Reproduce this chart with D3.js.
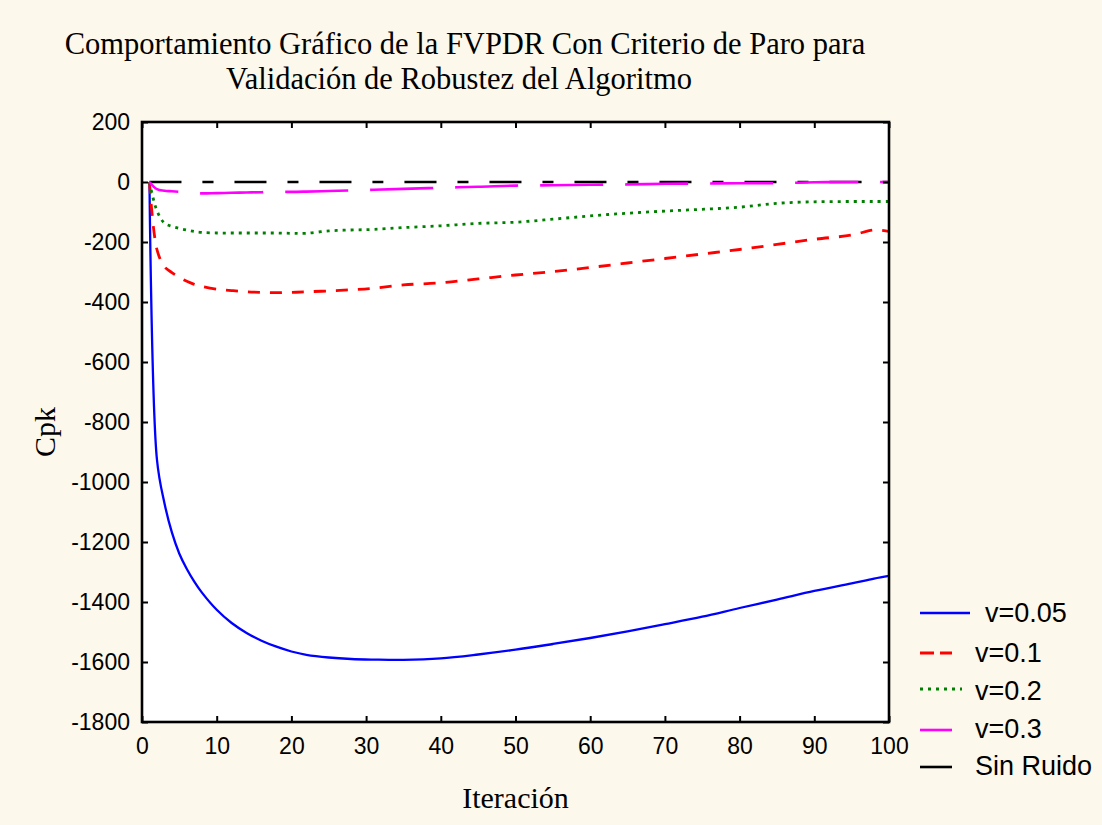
<!DOCTYPE html>
<html>
<head>
<meta charset="utf-8">
<script src="https://cdn.jsdelivr.net/npm/d3@7"></script>
<style>
  html, body { margin: 0; padding: 0; background: #fdf8ec; }
  #chart svg { display: block; }
  .tick line { stroke: #000; stroke-width: 2px; }
</style>
</head>
<body>
<div id="chart"></div>
<script>
/* ================= Data ================= */

const iterations = [1, 2, 3, 4, 5, 6, 7, 8, 10, 12, 14, 16, 18, 20, 22, 25, 28, 31, 35, 40, 45, 50, 55, 60, 65, 70, 75, 80, 85, 90, 95, 98, 100];

const v005 = [0, -925, -1070, -1168, -1239, -1290, -1332, -1368, -1426, -1470, -1503, -1529, -1549, -1565, -1576, -1585, -1590, -1592, -1593, -1588, -1575, -1559, -1540, -1520, -1498, -1474, -1449, -1420, -1392, -1363, -1338, -1322, -1313];
const v01 = [0, -225, -282, -302, -318, -331, -341, -348, -357, -362, -366, -368, -369, -368, -366, -363, -359, -354, -343, -336, -323, -310, -299, -285, -270, -255, -240, -225, -208, -191, -177, -160, -165];
const v02 = [0, -96, -137, -148, -155, -160, -165, -168, -170, -170, -170, -170, -170, -171, -171, -163, -160, -158, -152, -146, -138, -134, -124, -113, -104, -97, -91, -84, -71, -66, -65, -65, -65];
const v03 = [0, -24, -29, -31, -33, -35, -37, -38, -37, -36, -35, -34, -33, -33, -32, -30, -28, -26, -23, -19, -16, -12, -11, -9, -8, -6, -5, -4, -4, -1, 0, 0, 0];
const sinRuido = [0, 0, 0, 0, 0, 0, 0, 0, 0, 0, 0, 0, 0, 0, 0, 0, 0, 0, 0, 0, 0, 0, 0, 0, 0, 0, 0, 0, 0, 0, 0, 0, 0];

const seriesNames = ["v=0.05", "v=0.1", "v=0.2", "v=0.3", "Sin Ruido"];
const seriesValues = [v005, v01, v02, v03, sinRuido];

const xTicks = [0, 10, 20, 30, 40, 50, 60, 70, 80, 90, 100];
const yTicks = [200, 0, -200, -400, -600, -800, -1000, -1200, -1400, -1600, -1800];

const titleLines = ["Comportamiento Gráfico de la FVPDR Con Criterio de Paro para", "Validación de Robustez del Algoritmo"];

/* ================= Styles ================= */

const styles = [
  { color: "#0000ff", dash: null, width: 2.3, offset: 0 },
  { color: "#ff0000", dash: "12,10", width: 2.8, offset: 0 },
  { color: "#008000", dash: "3,5", width: 2.8, offset: 0 },
  { color: "#ff00ff", dash: "63,22", width: 2.6, offset: 31 },
  { color: "#000000", dash: "32,21,11,21", width: 2.6, offset: 0 }
];

const serif = "'Liberation Serif', 'Times New Roman', serif";
const sans = "'Liberation Sans', Arial, sans-serif";

/* ================= Draw ================= */

const W = 1102, H = 825;
const plot = { left: 142, right: 889, top: 122, bottom: 722 };

const svg = d3.select("#chart")
  .append("svg")
  .attr("width", W)
  .attr("height", H);

svg.append("rect")
  .attr("width", W)
  .attr("height", H)
  .attr("fill", "#fdf8ec");

const x = d3.scaleLinear().domain([0, 100]).range([plot.left, plot.right]);
const y = d3.scaleLinear().domain([-1800, 200]).range([plot.bottom, plot.top]);

// plot area
svg.append("rect")
  .attr("x", plot.left)
  .attr("y", plot.top)
  .attr("width", plot.right - plot.left)
  .attr("height", plot.bottom - plot.top)
  .attr("fill", "#ffffff");

// lines
const line = d3.line()
  .x((d, i) => x(iterations[i]))
  .y(d => y(d))
  .curve(d3.curveCatmullRom.alpha(0.5));

const order = [0, 1, 2, 4, 3];
order.forEach(k => {
  const s = styles[k];
  svg.append("path")
    .datum(seriesValues[k])
    .attr("fill", "none")
    .attr("stroke", s.color)
    .attr("stroke-width", s.width)
    .attr("stroke-dasharray", s.dash)
    .attr("stroke-dashoffset", s.offset)
    .attr("d", line);
});

// axes (inward ticks)
const styleTicks = g => {
  g.select(".domain").remove();
  g.selectAll("text")
    .attr("font-family", sans)
    .attr("font-size", 23)
    .attr("fill", "#000");
};

svg.append("g")
  .attr("transform", `translate(0,${plot.bottom})`)
  .call(d3.axisBottom(x).tickValues(xTicks).tickSize(-6).tickPadding(16).tickFormat(d => String(d)))
  .call(styleTicks);

svg.append("g")
  .attr("transform", `translate(${plot.left},0)`)
  .call(d3.axisLeft(y).tickValues(yTicks).tickSize(-6).tickPadding(12).tickFormat(d => String(d)))
  .call(styleTicks);

svg.append("g")
  .attr("transform", `translate(0,${plot.top})`)
  .call(d3.axisTop(x).tickValues(xTicks).tickSize(-6).tickFormat(""))
  .call(styleTicks);

svg.append("g")
  .attr("transform", `translate(${plot.right},0)`)
  .call(d3.axisRight(y).tickValues(yTicks).tickSize(-6).tickFormat(""))
  .call(styleTicks);

// frame
svg.append("rect")
  .attr("x", plot.left)
  .attr("y", plot.top)
  .attr("width", plot.right - plot.left)
  .attr("height", plot.bottom - plot.top)
  .attr("fill", "none")
  .attr("stroke", "#000")
  .attr("stroke-width", 2.6);

// title
svg.append("text")
  .attr("x", 465)
  .attr("y", 54)
  .attr("text-anchor", "middle")
  .style("font-family", serif)
  .style("font-size", "30.5px")
  .text(titleLines[0]);

svg.append("text")
  .attr("x", 459)
  .attr("y", 89)
  .attr("text-anchor", "middle")
  .style("font-family", serif)
  .style("font-size", "30.5px")
  .text(titleLines[1]);

// axis titles
svg.append("text")
  .attr("x", (plot.left + plot.right) / 2)
  .attr("y", 808)
  .attr("text-anchor", "middle")
  .style("font-family", serif)
  .style("font-size", "30px")
  .text("Iteración");

svg.append("text")
  .attr("transform", "translate(55,432) rotate(-90)")
  .attr("text-anchor", "middle")
  .style("font-family", serif)
  .style("font-size", "30px")
  .text("Cpk");

/* ===== Legend ===== */

const legendY = [613, 653, 689, 730, 767];
const legendLen = [50, 32, 42, 32, 32];
const legendTextX = [985, 975, 975, 975, 975];
const legendBase = [622, 662, 700, 738, 775];

const legend = svg.append("g");
seriesNames.forEach((name, i) => {
  const s = styles[i];
  legend.append("line")
    .attr("x1", 920)
    .attr("x2", 920 + legendLen[i])
    .attr("y1", legendY[i])
    .attr("y2", legendY[i])
    .attr("stroke", s.color)
    .attr("stroke-width", s.width)
    .attr("stroke-dasharray", i === 1 ? "14,6" : (i === 2 ? "3,5" : null));
  legend.append("text")
    .attr("x", legendTextX[i])
    .attr("y", legendBase[i])
    .style("font-family", sans)
    .style("font-size", "27px")
    .text(name);
});
</script>
</body>
</html>
